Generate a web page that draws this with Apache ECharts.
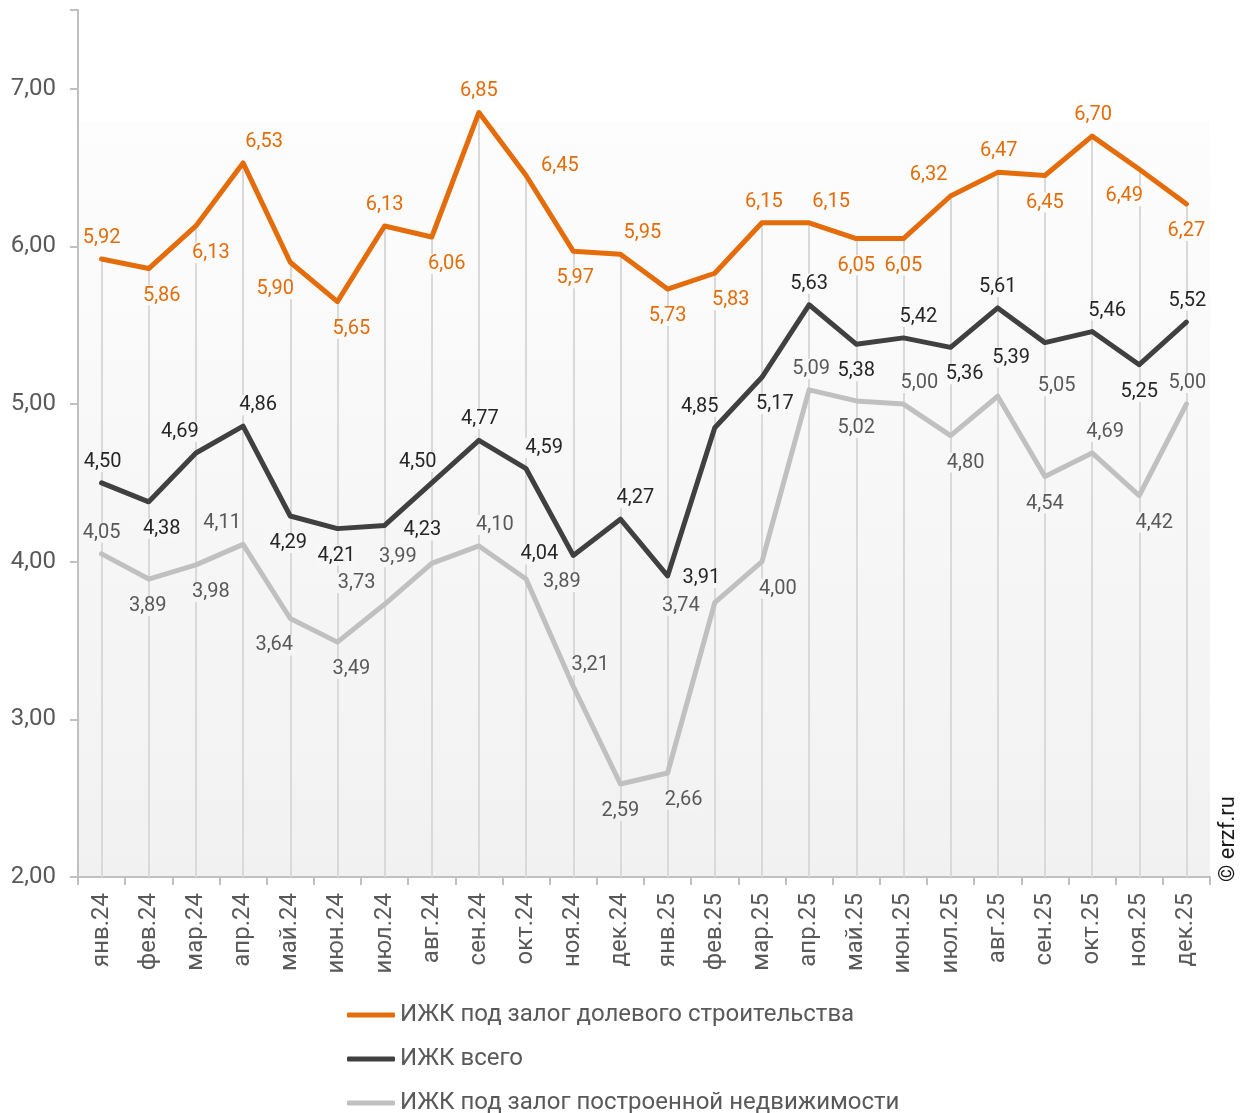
<!DOCTYPE html>
<html>
<head>
<meta charset="utf-8">
<script src="https://cdn.jsdelivr.net/npm/echarts@6/dist/echarts.min.js"></script>
<style>html,body{margin:0;padding:0;background:#fff}#c{width:1248px;height:1113px}</style>
</head>
<body>
<div id="c"></div>
<script>
const categories = ['янв.24','фев.24','мар.24','апр.24','май.24','июн.24','июл.24','авг.24','сен.24','окт.24','ноя.24','дек.24',
  'янв.25','фев.25','мар.25','апр.25','май.25','июн.25','июл.25','авг.25','сен.25','окт.25','ноя.25','дек.25'];
const dolevoe = [5.92,5.86,6.13,6.53,5.90,5.65,6.13,6.06,6.85,6.45,5.97,5.95,5.73,5.83,6.15,6.15,6.05,6.05,6.32,6.47,6.45,6.70,6.49,6.27];
const vsego   = [4.50,4.38,4.69,4.86,4.29,4.21,4.23,4.50,4.77,4.59,4.04,4.27,3.91,4.85,5.17,5.63,5.38,5.42,5.36,5.61,5.39,5.46,5.25,5.52];
const postr   = [4.05,3.89,3.98,4.11,3.64,3.49,3.73,3.99,4.10,3.89,3.21,2.59,2.66,3.74,4.00,5.09,5.02,5.00,4.80,5.05,4.54,4.69,4.42,5.00];
const yTicks = [2,3,4,5,6,7];
const yMax = 7.5;
const seriesNames = ['ИЖК под залог долевого строительства','ИЖК всего','ИЖК под залог построенной недвижимости'];

// label placement (position, dx, dy) per point
const posOrange = [['top',0,0],['bottom',13,0],['bottom',15,0],['top',21,0],['bottom',-15,0],['bottom',14,0],['top',0,0],['bottom',15,0],['top',0,0],['right',0,-10],['bottom',2,0],['top',22,0],
  ['bottom',0,0],['bottom',16,0],['top',2,0],['top',22,0],['bottom',0,0],['bottom',0,0],['top',-22,0],['top',1,0],['bottom',0,0],['top',1,0],['bottom',-15,0],['bottom',0,0]];
const posBlack = [['top',1,0],['bottom',13,0],['top',-16,0],['top',15,0],['bottom',-2,0],['bottom',-1,0],['right',4,5],['top',-14,0],['top',1,0],['top',18,0],['left',0,-1],['top',15,0],
  ['right',0,2],['top',-15,0],['bottom',13,0],['top',0,0],['bottom',0,0],['top',15,0],['bottom',14,0],['top',0,0],['left',0,15],['top',15,0],['bottom',0,0],['top',1,0]];
const posGray = [['top',0,0],['bottom',-1,0],['bottom',15,0],['top',-21,0],['bottom',-16,0],['bottom',14,0],['top',-28,0],['left',0,-6],['top',16,0],['right',2,3],['top',17,0],['bottom',0,0],
  ['bottom',16,0],['left',0,3],['bottom',16,0],['top',2,0],['bottom',0,0],['top',16,0],['bottom',15,0],['right',25,-10],['bottom',0,0],['top',13,0],['bottom',15,0],['top',1,0]];

const fmt = v => v.toFixed(2).replace('.', ',');
const distFor = { top: 9, bottom: 15, left: 12, right: 12 };
// label backdrop matching the plot gradient at the value's height
function bgFor(v) {
  const t = Math.min(1, Math.max(0, (6.8 - v) / (6.8 - yTicks[0])));
  const c = Math.round(253 - 12 * t);
  return 'rgb(' + c + ',' + c + ',' + c + ')';
}
function items(vals, pos) {
  return vals.map((v, i) => ({
    value: v,
    label: { position: pos[i][0], distance: distFor[pos[i][0]], backgroundColor: bgFor(v) }
  }));
}
function lineSeries(name, vals, pos, color, labelColor, z) {
  return {
    name, type: 'line', data: items(vals, pos), z,
    symbol: 'circle', symbolSize: 4, showSymbol: true,
    lineStyle: { color, width: 5, cap: 'round', join: 'round' },
    itemStyle: { color, borderWidth: 0 },
    label: { show: true, color: labelColor, fontSize: 20, fontFamily: 'Roboto', padding: [0, 1],
      formatter: p => fmt(p.value) },
    labelLayout: p => ({ dx: pos[p.dataIndex][1], dy: pos[p.dataIndex][2], hideOverlap: false }),
    emphasis: { disabled: true }
  };
}

const chart = echarts.init(document.getElementById('c'), null, { renderer: 'canvas' });
chart.setOption({
  animation: false,
  backgroundColor: '#ffffff',
  textStyle: { fontFamily: 'Roboto' },
  grid: {
    left: 78, right: 38, top: 10, bottom: 236, show: true, borderWidth: 0,
    backgroundColor: new echarts.graphic.LinearGradient(0, 0, 0, 1, [
      { offset: 0, color: '#ffffff' },
      { offset: 0.129, color: '#ffffff' },
      { offset: 0.13, color: '#fdfdfd' },
      { offset: 1, color: '#f1f1f1' }
    ])
  },
  legend: {
    orient: 'vertical', left: 342, top: 998, height: 200,
    itemWidth: 48, itemHeight: 5, itemGap: 20, icon: 'roundRect',
    textStyle: { fontSize: 24, color: '#595959', fontFamily: 'Roboto', lineHeight: 24 },
    data: seriesNames
  },
  xAxis: {
    type: 'category', data: categories, boundaryGap: true,
    axisLine: { show: true, lineStyle: { color: '#c0c0c0', width: 2 } },
    axisTick: { show: true, length: 8, lineStyle: { color: '#c0c0c0', width: 2 } },
    axisLabel: { rotate: 90, fontSize: 24, color: '#595959', margin: 16, fontFamily: 'Roboto', interval: 0 },
    splitLine: { show: false }
  },
  yAxis: {
    type: 'value', min: yTicks[0], max: yMax, interval: 1,
    axisLine: { show: true, lineStyle: { color: '#c0c0c0', width: 2 } },
    axisTick: { show: true, length: 8, lineStyle: { color: '#c0c0c0', width: 2 } },
    axisLabel: { fontSize: 24, color: '#595959', margin: 22, fontFamily: 'Roboto',
      formatter: v => yTicks.includes(v) ? fmt(v) : '' },
    splitLine: { show: false }
  },
  graphic: [{
    type: 'text', x: 1217, y: 882, rotation: Math.PI / 2,
    style: { text: '© erzf.ru', fontSize: 22, fill: '#1a1a1a', fontFamily: 'Roboto', align: 'left', verticalAlign: 'top' }
  }],
  series: [
    {
      name: 'drop', type: 'line', data: dolevoe, symbol: 'none', silent: true, z: 1,
      lineStyle: { opacity: 0 }, label: { show: false }, emphasis: { disabled: true },
      markLine: {
        z: 1, silent: true, symbol: 'none', animation: false,
        lineStyle: { color: '#d9d9d9', width: 2, type: 'solid' },
        label: { show: false },
        emphasis: { disabled: true },
        data: dolevoe.map((v, i) => [{ coord: [i, yTicks[0]] }, { coord: [i, v] }])
      }
    },
    lineSeries(seriesNames[0], dolevoe, posOrange, '#e46c0a', '#e46c0a', 4),
    lineSeries(seriesNames[1], vsego, posBlack, '#404040', '#262626', 3),
    lineSeries(seriesNames[2], postr, posGray, '#c0c0c0', '#595959', 2)
  ]
});
</script>
</body>
</html>
